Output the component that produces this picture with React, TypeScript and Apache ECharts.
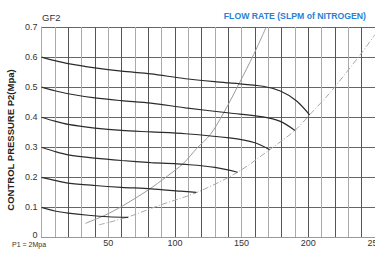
import React, { useEffect, useRef } from "react";
import * as echarts from "echarts";

// Regulation curves (flow SLPM, control pressure MPa)
const curveP06: [number, number][] = [
  [0, 0.6], [10, 0.588], [20, 0.578], [40, 0.564], [60, 0.553], [82, 0.544], [108, 0.528],
  [141, 0.514], [166, 0.503], [179, 0.487], [191, 0.455], [201, 0.408],
];
const curveP05: [number, number][] = [
  [0, 0.5], [10, 0.488], [20, 0.478], [40, 0.464], [60, 0.455], [82, 0.447], [108, 0.431],
  [141, 0.414], [166, 0.401], [179, 0.386], [190, 0.356],
];
const curveP04: [number, number][] = [
  [0, 0.4], [10, 0.387], [20, 0.376], [40, 0.364], [60, 0.356], [82, 0.351], [108, 0.345],
  [141, 0.331], [160, 0.315], [171, 0.292],
];
const curveP03: [number, number][] = [
  [0, 0.3], [10, 0.286], [20, 0.275], [40, 0.264], [60, 0.256], [82, 0.249], [111, 0.242],
  [130, 0.233], [147, 0.217],
];
const curveP02: [number, number][] = [
  [0, 0.2], [10, 0.19], [20, 0.181], [40, 0.173], [60, 0.167], [82, 0.162], [104, 0.154],
  [116, 0.15],
];
const curveP01: [number, number][] = [
  [0, 0.1], [10, 0.088], [20, 0.081], [35, 0.074], [50, 0.069], [65, 0.067],
];
// Solid gray characteristic line
const grayLine: [number, number][] = [
  [33, 0.047], [48, 0.075], [60, 0.103], [80, 0.158], [94, 0.203], [106.5, 0.247],
  [116.5, 0.297], [126.5, 0.342], [136.5, 0.414], [148.4, 0.514], [159, 0.608], [168.5, 0.7],
];
// Dash-dot limit line
const dashLine: [number, number][] = [
  [43, 0.042], [64, 0.067], [89, 0.108], [116.5, 0.15], [147, 0.217], [171, 0.292],
  [190, 0.356], [201, 0.408], [216, 0.48], [240, 0.614], [250, 0.675],
];

const xLabelValues = [50, 100, 150, 200, 250];

const FONT = "'Liberation Sans', Arial, sans-serif";

export default function App() {
  const ref = useRef<HTMLDivElement>(null);
  useEffect(() => {
    if (!ref.current) return;
    const chart = echarts.init(ref.current, undefined, { renderer: "svg" });
    const curves = [curveP06, curveP05, curveP04, curveP03, curveP02, curveP01];
    const series: any[] = curves.map((c, i) => ({
      type: "line",
      name: "P2-" + i,
      data: c,
      showSymbol: false,
      smooth: 0.3,
      lineStyle: { color: "#2b2b2b", width: 1.2 },
      z: 5,
    }));
    series.push({
      type: "line",
      name: "gray",
      data: grayLine,
      showSymbol: false,
      smooth: 0.3,
      lineStyle: { color: "#9a9a9a", width: 1 },
      z: 4,
    });
    series.push({
      type: "line",
      name: "dash",
      data: dashLine,
      showSymbol: false,
      smooth: 0.3,
      lineStyle: { color: "#a8a8a8", width: 1, type: [6, 2, 1, 2] },
      z: 4,
    });
    chart.setOption({
      animation: false,
      grid: { left: 41.5, right: 15, top: 27, bottom: 15.5, containLabel: false },
      xAxis: {
        type: "value",
        min: 0,
        max: 250,
        interval: 10,
        axisLine: { show: true, lineStyle: { color: "#999", width: 1 } },
        axisTick: { show: false },
        axisLabel: {
          margin: 1,
          fontSize: 9,
          fontFamily: FONT,
          color: "#333",
          formatter: (v: number) => (xLabelValues.includes(v) ? String(v) : ""),
        },
        splitLine: { show: true, lineStyle: { color: ["#555", "#aaa"], width: 1 } },
      },
      yAxis: {
        type: "value",
        min: 0,
        max: 0.7,
        interval: 0.1,
        axisLine: { show: true, lineStyle: { color: "#aaa", width: 1 } },
        axisTick: { show: false },
        axisLabel: {
          margin: 4,
          fontSize: 9,
          fontFamily: FONT,
          color: "#333",
          formatter: (v: number) => (v === 0 ? "{z|0}" : v.toFixed(1)),
          rich: {
            z: { fontSize: 9, fontFamily: FONT, color: "#333", padding: [0, 0, 5, 0] },
          },
        },
        splitLine: { show: true, lineStyle: { color: "#666", width: 1 } },
      },
      graphic: [
        {
          type: "text",
          left: 42,
          top: 12,
          style: { text: "GF2", font: "9.5px " + FONT, fill: "#333" },
        },
        {
          type: "text",
          right: 24,
          top: 11,
          style: {
            text: "FLOW RATE (SLPM of NITROGEN)",
            font: "bold 8.7px " + FONT,
            fill: "#2a7fd4",
          },
        },
        {
          type: "text",
          x: 10,
          y: 140,
          rotation: Math.PI / 2,
          style: {
            text: "CONTROL PRESSURE P2(Mpa)",
            font: "bold 9.5px " + FONT,
            fill: "#222",
            textAlign: "center",
            textVerticalAlign: "middle",
          },
        },
        {
          type: "text",
          x: 12,
          y: 244,
          style: {
            text: "P1 = 2Mpa",
            font: "7px " + FONT,
            fill: "#333",
            textVerticalAlign: "middle",
          },
        },
      ],
      series,
    });
    return () => chart.dispose();
  }, []);
  return (
    <div
      style={{
        position: "fixed",
        left: 0,
        top: 0,
        width: 375,
        height: 253,
        overflow: "hidden",
        background: "#fff",
      }}
    >
      <div ref={ref} style={{ width: 390, height: 253 }} />
    </div>
  );
}
